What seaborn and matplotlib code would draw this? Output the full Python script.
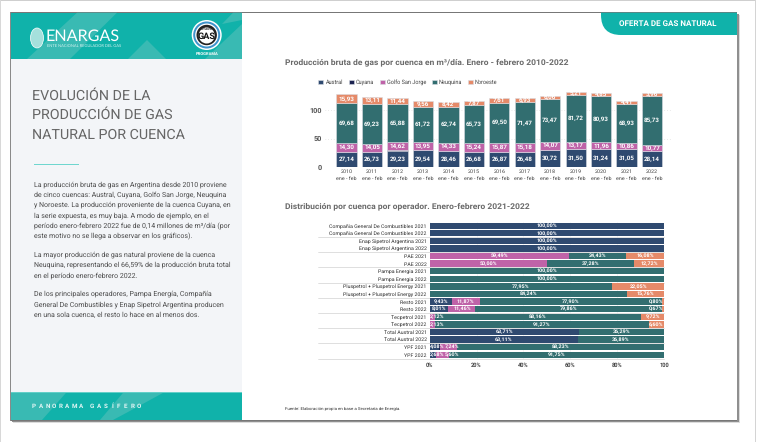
import matplotlib
matplotlib.use("Agg")
import matplotlib.pyplot as plt
from matplotlib.patches import Rectangle, Polygon, Circle, Ellipse, PathPatch
from matplotlib.path import Path
import seaborn as sns

W, H = 757, 442

years = ["2010", "2011", "2012", "2013", "2014", "2015", "2016", "2017", "2018", "2019", "2020", "2021", "2022"]
period = "ene - feb"
austral = [27.14, 26.73, 29.23, 29.54, 28.46, 26.68, 26.87, 26.48, 30.72, 31.50, 31.24, 31.05, 28.14]
cuyana = [0.30, 0.30, 0.28, 0.28, 0.26, 0.25, 0.24, 0.22, 0.20, 0.18, 0.16, 0.15, 0.14]
golfo = [14.30, 14.05, 14.62, 13.95, 14.33, 15.24, 15.87, 15.18, 14.07, 13.17, 11.96, 10.86, 10.77]
neuquina = [69.68, 69.23, 65.88, 61.72, 62.74, 65.73, 69.50, 71.47, 73.47, 81.72, 80.93, 68.93, 85.73]
noroeste = [15.93, 13.11, 11.44, 9.56, 8.42, 7.87, 7.61, 6.93, 6.06, 5.21, 4.85, 4.41, 3.96]

operators = [
    "Compañia General De Combustibles 2021", "Compañia General De Combustibles 2022",
    "Enap Sipetrol Argentina 2021", "Enap Sipetrol Argentina 2022",
    "PAE 2021", "PAE 2022", "Pampa Energia 2021", "Pampa Energia 2022",
    "Pluspetrol + Pluspetrol Energy 2021", "Pluspetrol + Pluspetrol Energy 2022",
    "Resto 2021", "Resto 2022", "Tecpetrol 2021", "Tecpetrol 2022",
    "Total Austral 2021", "Total Austral 2022", "YPF 2021", "YPF 2022",
]
op_austral = [100, 100, 100, 100, 0, 0, 0, 0, 0, 0, 9.43, 8.01, 0, 0, 63.71, 63.11, 4.08, 2.68]
op_cuyana = [0, 0, 0, 0, 0, 0, 0, 0, 0, 0, 0, 0, 0, 0, 0, 0, 0.45, 0]
op_golfo = [0, 0, 0, 0, 59.49, 50.00, 0, 0, 0, 0, 11.87, 11.46, 2.12, 2.13, 0, 0, 7.24, 5.60]
op_neuquina = [0, 0, 0, 0, 24.43, 37.28, 100, 100, 77.95, 84.24, 77.90, 79.86, 88.16, 91.27, 36.29, 36.89, 88.23, 91.75]
op_noroeste = [0, 0, 0, 0, 16.08, 12.72, 0, 0, 22.05, 15.76, 0.80, 0.67, 9.72, 6.60, 0, 0, 0, 0]

series_names = ["Austral", "Cuyana", "Golfo San Jorge", "Neuquina", "Noroeste"]
pct_ticks = ["0%", "20%", "40%", "60%", "80%", "100"]

body_text = [
    (184.3, "La producción bruta de gas en Argentina desde 2010 proviene"),
    (194.7, "de cinco cuencas: Austral, Cuyana, Golfo San Jorge, Neuquina"),
    (205.0, "y Noroeste. La producción proveniente de la cuenca Cuyana, en"),
    (215.3, "la serie expuesta, es muy baja. A modo de ejemplo, en el"),
    (226.0, "período enero-febrero 2022 fue de 0,14 millones de m³/día (por"),
    (236.3, "este motivo no se llega a observar en los gráficos)."),
    (254.7, "La mayor producción de gas natural proviene de la cuenca"),
    (265.0, "Neuquina, representando el 66,59% de la producción bruta total"),
    (275.7, "en el período enero-febrero 2022."),
    (293.7, "De los principales operadores, Pampa Energía, Compañía"),
    (304.3, "General De Combustibles y Enap Sipetrol Argentina producen"),
    (314.7, "en una sola cuenca, el resto lo hace en al menos dos."),
]

COL = {"Austral": "#2f4a70", "Cuyana": "#1b2350", "Golfo San Jorge": "#bf63a8",
       "Neuquina": "#326e70", "Noroeste": "#e58a69"}
TEAL = "#10b2aa"
LIGHT = "#39bab3"

sns.set_theme(style="white")
plt.rcParams["font.family"] = ["Roboto", "DejaVu Sans"]
plt.rcParams["text.hinting"] = "no_hinting"

fig = plt.figure(figsize=(W / 100, H / 100), dpi=100, facecolor="white")


def rect_px(x0, y0, x1, y1):
    return [x0 / W, 1 - y1 / H, (x1 - x0) / W, (y1 - y0) / H]


bg = fig.add_axes([0, 0, 1, 1], zorder=0)
bg.set_xlim(0, W)
bg.set_ylim(H, 0)
bg.axis("off")


def box(x0, y0, x1, y1, color, z=1, **kw):
    bg.add_patch(Rectangle((x0, y0), x1 - x0, y1 - y0, facecolor=color, edgecolor="none", zorder=z, **kw))


def txt(x, y, s, **kw):
    kw.setdefault("va", "center")
    kw.setdefault("zorder", 10)
    bg.text(x, y, s, **kw)


# outer frame
box(0, 0, 755.5, 1, "#cfcfcf")
box(0, 0, 1, H, "#d8d8d8")
box(755, 0, 756, H, "#d4d4d4")
# page with shadow
box(13, 15, 740, 423, "#dcdcdc")
box(12, 14, 739, 422, "#8f8f8f")
box(10, 12, 737, 420.5, "white", z=2)
box(10, 12, 737, 12.7, "#777777", z=3)
box(736.5, 12, 737.3, 420.5, "#666666", z=3)
box(10, 420, 737, 421, "#777777", z=3)
box(10, 12, 10.8, 420.5, "#8a8a8a", z=4)
# left panel
box(10.8, 12.7, 242, 420, "#f3f5f8", z=3)
box(10.8, 12.7, 242, 59, TEAL, z=3)
box(10.8, 392.3, 242, 420, TEAL, z=3)
box(10.8, 392.3, 242, 392.9, "#63cfc8", z=3.6)
for pts in [[(27, 59), (77, 12.7), (117, 12.7), (70, 59)],
            [(128, 59), (147, 40), (166, 59)],
            [(205, 59), (242, 24), (242, 59)],
            [(222, 24), (233, 12.7), (242, 12.7), (242, 20)],
            [(10.8, 392.9), (66, 392.9), (42, 420), (10.8, 420)],
            [(123, 392.9), (163, 392.9), (128, 412), (113, 420), (100, 420)]]:
    bg.add_patch(Polygon(pts, closed=True, facecolor=LIGHT, edgecolor="none", zorder=3.5))
# tab top right
r = 20
tab = Path([(601, 12.7), (737, 12.7), (737, 35), (601 + r, 35), (601, 35), (601, 35 - r), (601, 12.7)],
           [Path.MOVETO, Path.LINETO, Path.LINETO, Path.LINETO, Path.CURVE3, Path.CURVE3, Path.CLOSEPOLY])
bg.add_patch(PathPatch(tab, facecolor=TEAL, edgecolor="none", zorder=5))
txt(668, 24, "OFERTA DE GAS NATURAL", color="white", fontsize=5.8, fontweight="bold", ha="center")

# ENARGAS logo
bg.add_patch(Ellipse((37, 38), 13, 20, facecolor="#a5e0dc", edgecolor="white", lw=0.5, zorder=5))
txt(46, 36.5, "ENARGAS", color="white", fontsize=11.6, family="Lato", zorder=6)
txt(47, 46, "ENTE NACIONAL REGULADOR DEL GAS", color="#d8f3f1", fontsize=2.9, family="Lato", zorder=6)
bg.add_patch(Circle((206.7, 35), 15, facecolor="white", edgecolor="none", zorder=5))
bg.add_patch(Circle((206.7, 35), 13.5, facecolor="#3f93cb", edgecolor="none", zorder=5.1))
bg.add_patch(Circle((206.7, 35), 11.5, facecolor="white", edgecolor="none", zorder=5.2))
bg.add_patch(Circle((206.7, 35), 10.2, facecolor="#222222", edgecolor="none", zorder=5.3))
bg.add_patch(Circle((206.7, 35.5), 8, facecolor="white", edgecolor="none", zorder=5.4))
txt(206.7, 29.3, "ESTADO", color="#222222", fontsize=2.4, fontweight="bold", ha="center")
txt(206.7, 36.8, "GAS", color="#111111", fontsize=6.6, fontweight="bold", ha="center")
txt(206.7, 53.5, "PROGRAMA", color="white", fontsize=3, fontweight="bold", ha="center")

# left title + text
for y, s in [(96, "EVOLUCIÓN DE LA"), (115, "PRODUCCIÓN DE GAS"), (135, "NATURAL POR CUENCA")]:
    txt(32.5, y, s, color="#666666", fontsize=10.3)
box(34, 163.8, 79, 165.3, "#6fd6cf", z=5)
for y, s in body_text:
    txt(33.5, y, s, color="#4a4a4a", fontsize=5.0)
footer_x = 34
for ch in "PANORAMA GASÍFERO":
    if ch == " ":
        footer_x += 4.4
        continue
    txt(footer_x, 406, ch, color="#e3f6f5", fontsize=4.5, fontweight="bold", ha="center")
    footer_x += 6.7

# section titles and source
txt(285, 62, "Producción bruta de gas por cuenca en m³/día. Enero - febrero 2010-2022",
    color="#6a6a6a", fontsize=6.1, fontweight="bold")
txt(285, 205.7, "Distribución por cuenca por operador. Enero-febrero 2021-2022",
    color="#6a6a6a", fontsize=6.1, fontweight="bold")
txt(285, 408, "Fuente: Elaboración propia en base a Secretaría de Energía.", color="#333333", fontsize=3.2)


def fmt(v, pct=False):
    if v <= 0:
        return ""
    return f"{v:.2f}".replace(".", ",") + ("%" if pct else "")


# --- stacked columns -------------------------------------------------------
ax1 = fig.add_axes(rect_px(324.85, 89.9, 671.2, 167.3), zorder=5)
ax1.patch.set_alpha(0)
cats = [f"{y}\n{period}" for y in years]
base = [0.0] * len(cats)
for name, vals in zip(series_names, [austral, cuyana, golfo, neuquina, noroeste]):
    sns.barplot(x=cats, y=vals, bottom=base, color=COL[name], saturation=1, width=0.8, ax=ax1,
                label=name, edgecolor="#d9dde3", linewidth=0.4, zorder=3)
    if name != "Cuyana":
        ax1.bar_label(ax1.containers[-1], labels=[fmt(v) for v in vals], label_type="center",
                      color="white", fontsize=4.5, fontweight="bold")
    base = [b + v for b, v in zip(base, vals)]
ax1.set_xlim(-0.85, 12.75)
ax1.set_ylim(0, 135)
ax1.set_yticks([0, 50, 100])
ax1.set_ylabel("")
ax1.grid(axis="y", color="#d5d5d5", lw=0.5, ls=(0, (1, 3)))
ax1.set_axisbelow(True)
for s in ax1.spines.values():
    s.set_visible(False)
ax1.tick_params(axis="y", length=0, pad=2, labelsize=5.2, labelcolor="#555555")
ax1.tick_params(axis="x", length=0, pad=1.6, labelsize=3.9, labelcolor="#444444")
for t in ax1.get_yticklabels():
    t.set_fontweight("bold")
for t in ax1.get_xticklabels():
    t.set_linespacing(1.5)
ax1.legend(loc="lower left", bbox_to_anchor=(-0.032, 1.0), ncol=5, frameon=False, fontsize=4.0,
           handlelength=0.9, handleheight=0.9, handletextpad=0.35, columnspacing=1.05,
           borderaxespad=0, borderpad=0.85, labelcolor="#444444")

# --- 100% horizontal bars --------------------------------------------------
ax2 = fig.add_axes(rect_px(429.7, 221.9, 664, 358.5), zorder=5)
ax2.patch.set_alpha(0)
left = [0.0] * len(operators)
for name, vals in zip(series_names, [op_austral, op_cuyana, op_golfo, op_neuquina, op_noroeste]):
    sns.barplot(y=operators, x=vals, left=left, orient="h", color=COL[name], saturation=1, width=0.84,
                ax=ax2, linewidth=0, zorder=3)
    if name != "Cuyana":
        anns = ax2.bar_label(ax2.containers[-1], labels=[fmt(v, True) for v in vals], label_type="center",
                             color="white", fontsize=3.9, fontweight="bold", zorder=6)
        # labels wider than a thin segment stay inside the plot, as in the source
        for row, (ann, v, start) in enumerate(zip(anns, vals, left)):
            if v <= 0:
                continue
            if name == "Noroeste" and v < 2:
                ann.xycoords = "data"
                ann.xy = (99.8, row)
                ann.set_ha("right")
            elif name in ("Austral", "Golfo San Jorge") and v < 8:
                ann.xycoords = "data"
                ann.xy = (0.2 if start == 0 else max(start + 1, 6.6), row)
                ann.set_ha("left")
    left = [a + v for a, v in zip(left, vals)]
ax2.set_xlim(0, 100)
ax2.set_ylim(len(operators) - 0.5, -0.5)
ax2.set_xticks([0, 20, 40, 60, 80, 100])
ax2.set_xticklabels(pct_ticks)
ax2.set_xlabel("")
ax2.set_ylabel("")
ax2.grid(axis="x", color="#ececec", lw=0.4)
ax2.set_axisbelow(True)
for s in ax2.spines.values():
    s.set_visible(False)
ax2.tick_params(axis="y", length=0, pad=2.2, labelsize=3.75, labelcolor="#2e2e2e")
ax2.tick_params(axis="x", length=0, pad=3, labelsize=4.1, labelcolor="#444444")
for t in ax2.get_xticklabels():
    t.set_fontweight("bold")
sep = ax2.get_yaxis_transform()
for k in range(1, 18, 2):
    ax2.plot([-0.477, 1], [k + 0.5, k + 0.5], transform=sep, color="#d2d2d2", lw=0.5, clip_on=False, zorder=1)

fig.savefig("out.png", dpi=100, facecolor="white")
